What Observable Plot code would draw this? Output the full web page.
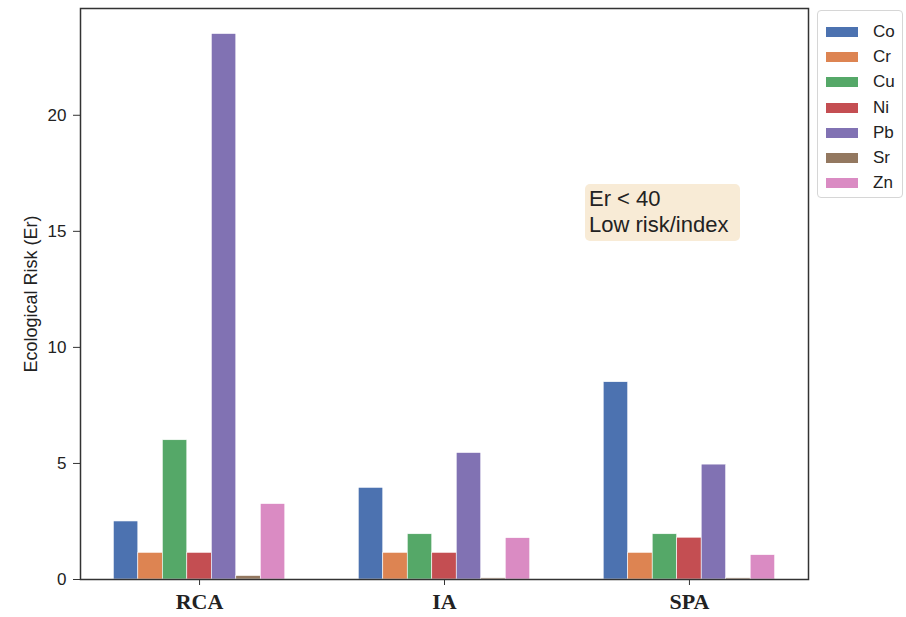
<!DOCTYPE html>
<html>
<head>
<meta charset="utf-8">
<script src="https://cdn.jsdelivr.net/npm/d3@7"></script>
<script src="https://cdn.jsdelivr.net/npm/@observablehq/plot@0.6"></script>
<style>
  html, body { margin: 0; padding: 0; background: #fff; }
  #wrap { position: relative; width: 906px; height: 617px; font-family: "Liberation Sans", Arial, sans-serif; }
  #legend { position: absolute; left: 817px; top: 10px; width: 84px; height: 186px; border: 1px solid #d6d6d6; border-radius: 4px; background: #fff; }
  .lg-row { position: absolute; left: 0; height: 20px; }
  .lg-patch { position: absolute; left: 8px; width: 32px; height: 10px; }
  .lg-text { position: absolute; left: 55px; font-size: 17px; color: #222; line-height: 20px; top: -10px; }
  #note { position: absolute; left: 585px; top: 184px; width: 155px; height: 57px; background: #f8ebd6; border-radius: 5px; box-sizing: border-box; padding: 2px 0 0 4px; font-size: 22px; line-height: 26px; color: #222; white-space: nowrap; }
  g[aria-label="y-axis tick label"] text { font-size: 17px; }
  g[aria-label="y-axis label"] text { font-size: 18px; }
</style>
</head>
<body>
<div id="wrap"></div>
<script>
const groups = ["RCA", "IA", "SPA"];
const metals = ["Co", "Cr", "Cu", "Ni", "Pb", "Sr", "Zn"];
const colors = ["#4c72b0", "#dd8452", "#55a868", "#c44e52", "#8172b3", "#937860", "#da8bc3"];
// values per metal, in group order RCA, IA, SPA
const Co = [2.5, 3.95, 8.5];
const Cr = [1.15, 1.15, 1.15];
const Cu = [6.0, 1.95, 1.95];
const Ni = [1.15, 1.15, 1.8];
const Pb = [23.5, 5.45, 4.95];
const Sr = [0.15, 0.05, 0.05];
const Zn = [3.25, 1.78, 1.05];
const yTicks = [0, 5, 10, 15, 20];
const yLabel = "Ecological Risk (Er)";
const noteLines = ["Er < 40", "Low risk/index"];

const series = [Co, Cr, Cu, Ni, Pb, Sr, Zn];
const barWidth = 0.1;
const rows = [];
metals.forEach((m, mi) => {
  groups.forEach((g, gi) => {
    const c = gi + (mi - (metals.length - 1) / 2) * barWidth;
    rows.push({metal: m, group: g, x1: c - barWidth / 2, x2: c + barWidth / 2, value: series[mi][gi]});
  });
});

const plot = Plot.plot({
  width: 906,
  height: 617,
  marginLeft: 80,
  marginRight: 98,
  marginTop: 8,
  marginBottom: 38,
  style: {fontFamily: "Liberation Sans, Arial, sans-serif", fontSize: "17px", color: "#222", background: "#fff"},
  x: {domain: [-0.486, 2.486], axis: null},
  y: {domain: [0, 24.6], axis: null},
  color: {domain: metals, range: colors},
  marks: [
    Plot.rectY(rows, {x1: "x1", x2: "x2", y: "value", fill: "metal", stroke: "#fff", strokeWidth: 0.6}),
    Plot.axisY({ticks: yTicks, tickSize: 7, tickPadding: 7, fontSize: 17, label: yLabel, labelAnchor: "center", labelOffset: 56, labelArrow: false, stroke: "#333"}),
    Plot.axisX({ticks: [0, 1, 2], tickFormat: i => groups[i], tickSize: 6, tickPadding: 8, label: null, stroke: "#333", fontSize: 22, fontWeight: "bold", fontFamily: "Liberation Serif, Times New Roman, serif"}),
    Plot.frame({stroke: "#333", strokeWidth: 1.5})
  ]
});

const wrap = document.getElementById("wrap");
wrap.appendChild(plot);

// legend
const legend = document.createElement("div");
legend.id = "legend";
metals.forEach((m, i) => {
  const row = document.createElement("div");
  row.className = "lg-row";
  row.style.top = (21 + i * 25.2) + "px";
  row.innerHTML = `<div class="lg-patch" style="background:${colors[i]};top:-5px"></div><div class="lg-text">${m}</div>`;
  legend.appendChild(row);
});
wrap.appendChild(legend);

// annotation
const note = document.createElement("div");
note.id = "note";
note.innerHTML = noteLines.map(t => t.replace("<", "&lt;")).join("<br>");
wrap.appendChild(note);
</script>
</body>
</html>
